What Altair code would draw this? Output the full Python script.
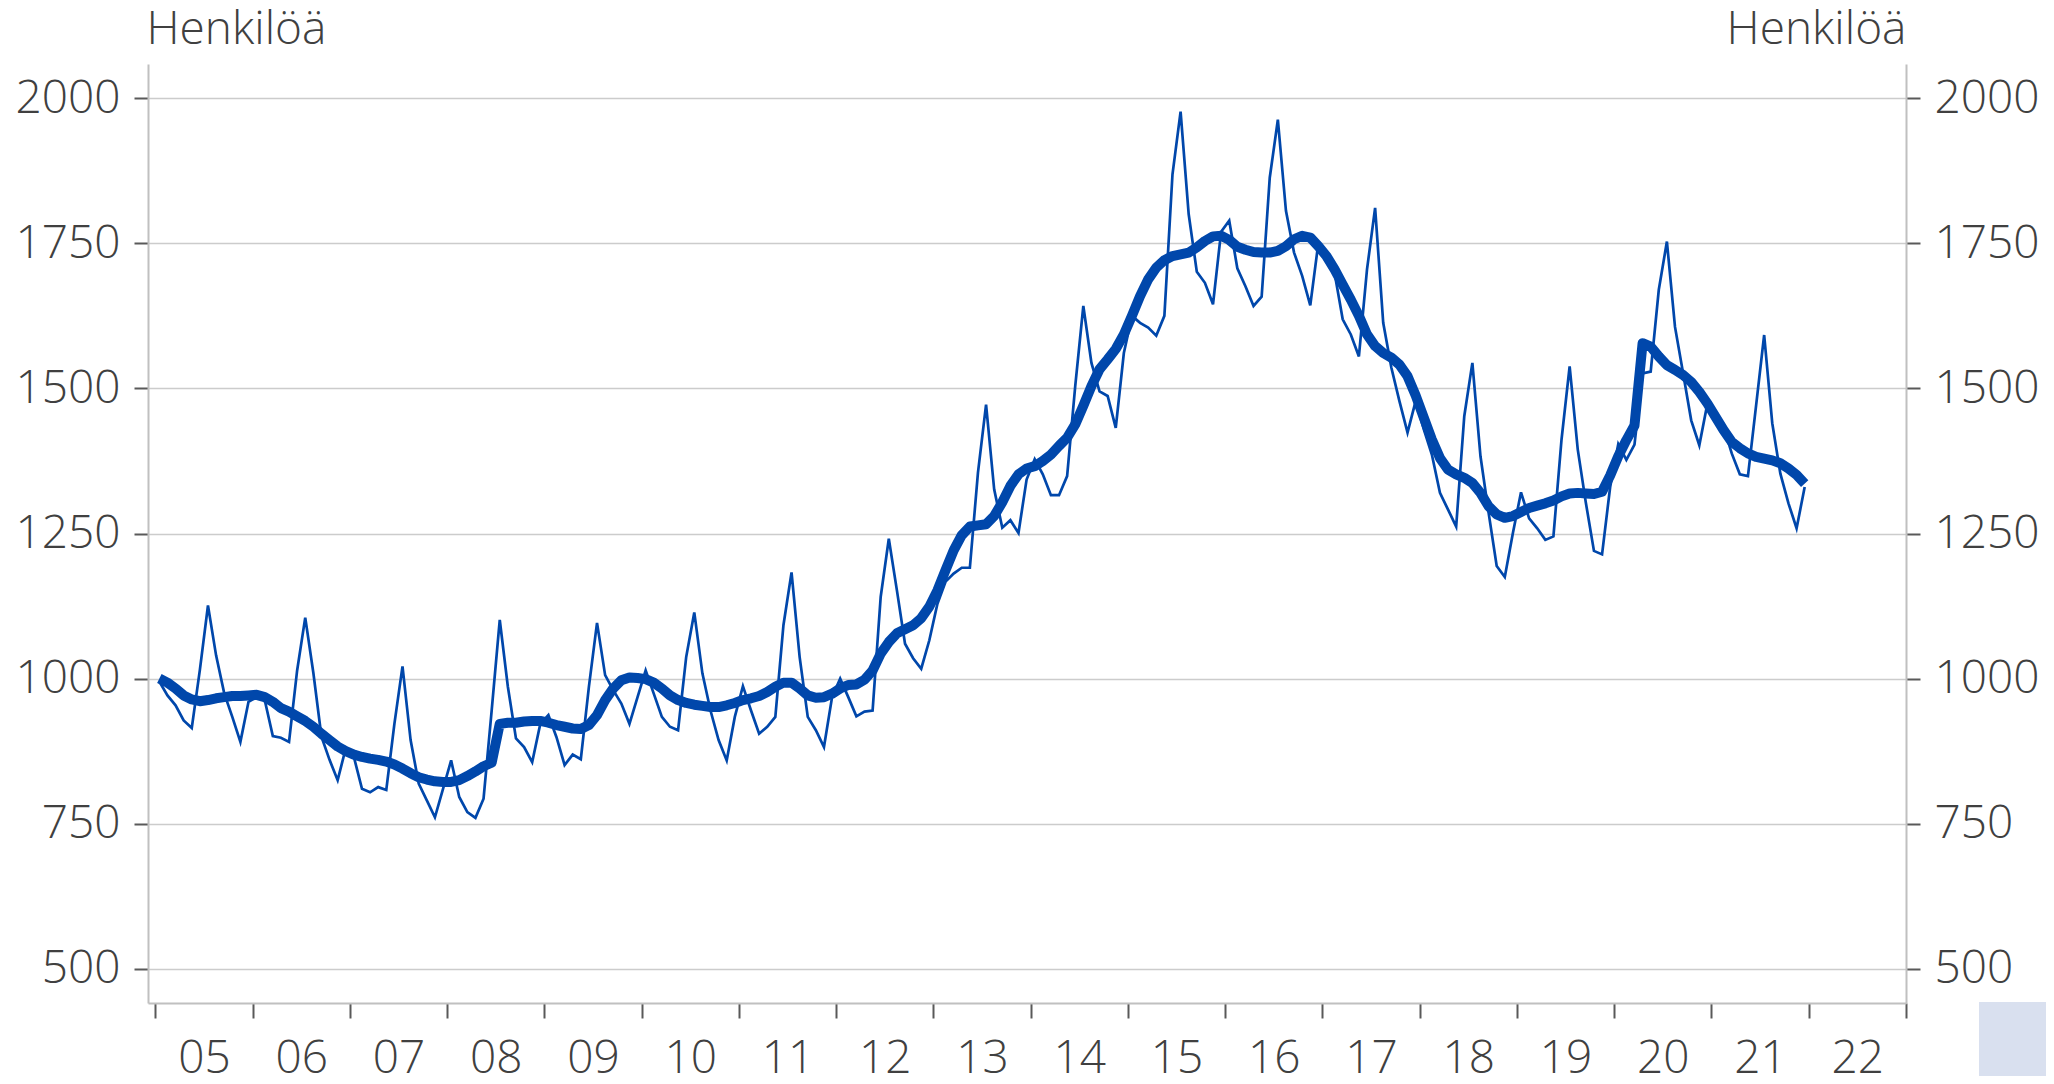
import altair as alt
import pandas as pd

years = list(range(2005, 2022))

monthly = [
    995, 971, 954, 928, 915, 1015, 1126, 1040, 975, 934, 891, 960,      # 2005
    968, 963, 901, 898, 891, 1014, 1105, 1010, 900, 860, 825, 880,      # 2006
    865, 810, 804, 813, 808, 922, 1021, 894, 819, 790, 761, 810,        # 2007
    859, 796, 770, 760, 793, 945, 1101, 986, 897, 882, 856, 922,        # 2008
    937, 899, 851, 869, 861, 986, 1096, 1006, 980, 957, 922, 968,       # 2009
    1014, 974, 934, 917, 911, 1037, 1114, 1009, 945, 894, 859, 934,     # 2010
    987, 945, 905, 917, 934, 1092, 1183, 1037, 934, 911, 882, 968,      # 2011
    1000, 968, 935, 943, 945, 1141, 1241, 1152, 1060, 1035, 1017, 1066, # 2012
    1129, 1167, 1181, 1191, 1191, 1355, 1472, 1326, 1260, 1273, 1251, 1343,  # 2013
    1378, 1352, 1316, 1316, 1349, 1504, 1642, 1544, 1495, 1487, 1432, 1561,  # 2014
    1625, 1613, 1605, 1591, 1625, 1869, 1977, 1800, 1701, 1682, 1645, 1770,  # 2015
    1789, 1707, 1676, 1642, 1658, 1863, 1963, 1806, 1734, 1694, 1643, 1751,  # 2016
    1730, 1699, 1619, 1593, 1555, 1705, 1811, 1613, 1536, 1478, 1424, 1478,  # 2017
    1430, 1386, 1320, 1291, 1262, 1452, 1544, 1383, 1286, 1194, 1175, 1251,  # 2018
    1321, 1276, 1259, 1239, 1245, 1412, 1538, 1395, 1303, 1220, 1214, 1330,  # 2019
    1404, 1377, 1403, 1526, 1529, 1670, 1753, 1606, 1526, 1445, 1402, 1474,  # 2020
    1451, 1434, 1388, 1352, 1349, 1470, 1592, 1440, 1353, 1302, 1259, 1330,  # 2021
]

trend = [
    1000, 993, 983, 971, 964, 961, 963, 966, 968, 970, 970, 971,        # 2005
    972, 968, 960, 949, 943, 935, 927, 917, 905, 894, 883, 875,         # 2006
    869, 865, 862, 860, 857, 852, 845, 837, 830, 826, 823, 822,         # 2007
    822, 825, 832, 840, 849, 855, 922, 924, 924, 926, 927, 927,         # 2008
    924, 920, 917, 914, 913, 920, 937, 963, 983, 997, 1002, 1001,       # 2009
    999, 993, 983, 971, 963, 958, 955, 953, 951, 951, 954, 958,         # 2010
    963, 966, 970, 977, 986, 993, 993, 983, 971, 967, 968, 974,         # 2011
    983, 989, 990, 998, 1014, 1043, 1063, 1078, 1085, 1092, 1104, 1124, # 2012
    1152, 1187, 1221, 1247, 1262, 1264, 1266, 1280, 1304, 1332, 1352, 1362,  # 2013
    1366, 1375, 1386, 1401, 1415, 1438, 1470, 1504, 1533, 1550, 1568, 1593,  # 2014
    1625, 1659, 1688, 1708, 1721, 1728, 1731, 1734, 1743, 1754, 1762, 1763,  # 2015
    1756, 1744, 1739, 1735, 1734, 1734, 1737, 1745, 1757, 1763, 1760, 1745,  # 2016
    1728, 1705, 1679, 1653, 1625, 1593, 1573, 1561, 1553, 1541, 1521, 1488,  # 2017
    1450, 1412, 1380, 1360, 1352, 1346, 1337, 1320, 1297, 1283, 1277, 1280,  # 2018
    1287, 1294, 1298, 1302, 1307, 1314, 1319, 1320, 1319, 1318, 1322, 1350,  # 2019
    1383, 1411, 1436, 1578, 1572, 1555, 1540, 1532, 1523, 1511, 1494, 1474,  # 2020
    1451, 1428, 1408, 1397, 1388, 1382, 1379, 1376, 1371, 1362, 1351, 1336,  # 2021
]

x_ticks = list(range(2005, 2024))
y_ticks = [500, 750, 1000, 1250, 1500, 1750, 2000]
y_title = "Henkilöä"

t = [y + (m - 0.5) / 12 for y in years for m in range(1, 13)]
df = pd.DataFrame({"t": t, "monthly": monthly, "trend": trend})

FONT = "Open Sans"
TEXT = "#404040"
BLUE = "#0047AB"
W, H = 1758, 939

x_scale = alt.Scale(domain=[2004.925, 2023], nice=False, zero=False)
y_scale = alt.Scale(domain=[441, 2059], nice=False, zero=False)

x_axis = alt.Axis(
    values=x_ticks,
    labelExpr="datum.value < 2023 ? substring(toString(datum.value), 2, 4) : ''",
    labelOffset=48.6,
    labelOverlap=False,
    labelFlush=False,
    labelFont=FONT, labelFontSize=46, labelFontWeight=300, labelColor=TEXT,
    labelPadding=18,
    grid=False,
    domainColor="#c0c0c0", domainWidth=2,
    tickColor="#595959", tickWidth=2, tickSize=15,
    title=None,
)

common_y = dict(
    values=y_ticks,
    format="d",
    labelFont=FONT, labelFontSize=46, labelFontWeight=300, labelColor=TEXT,
    labelPadding=14,
    domainColor="#c0c0c0", domainWidth=2,
    tickColor="#595959", tickWidth=2, tickSize=14,
    title=y_title,
    titleAngle=0,
    titleBaseline="alphabetic",
    titleY=-21,
    titleFont=FONT, titleFontSize=46, titleFontWeight=300, titleColor=TEXT,
    labelOverlap=False,
)

y_left = alt.Axis(orient="left", grid=True, gridColor="#cccccc", gridWidth=1.5,
                  titleAlign="left", titleX=-2, **common_y)
y_right = alt.Axis(orient="right", grid=False, titleAlign="right", titleX=0, **common_y)

base = alt.Chart(df)

thin = base.mark_line(color=BLUE, strokeWidth=2.7, strokeJoin="miter").encode(
    x=alt.X("t:Q", scale=x_scale, axis=x_axis),
    y=alt.Y("monthly:Q", scale=y_scale, axis=y_left),
)

thick = base.mark_line(color=BLUE, strokeWidth=10, strokeJoin="round").encode(
    x=alt.X("t:Q", scale=x_scale),
    y=alt.Y("trend:Q", scale=y_scale, axis=y_right),
)

box = alt.Chart(pd.DataFrame({"k": [0]})).mark_rect(color="#d9e0ef").encode(
    x=alt.value(1831), x2=alt.value(1900), y=alt.value(938), y2=alt.value(1020)
)

chart = (
    alt.layer(thin, thick, box)
    .resolve_scale(y="independent")
    .properties(
        width=W, height=H,
        autosize=alt.AutoSizeParams(type="none"),
        padding={"left": 140, "top": 56, "right": 140, "bottom": 73},
        background="white",
    )
    .configure_view(strokeWidth=0)
)

chart.save("out.html", embed_options={"renderer": "svg", "actions": False})
